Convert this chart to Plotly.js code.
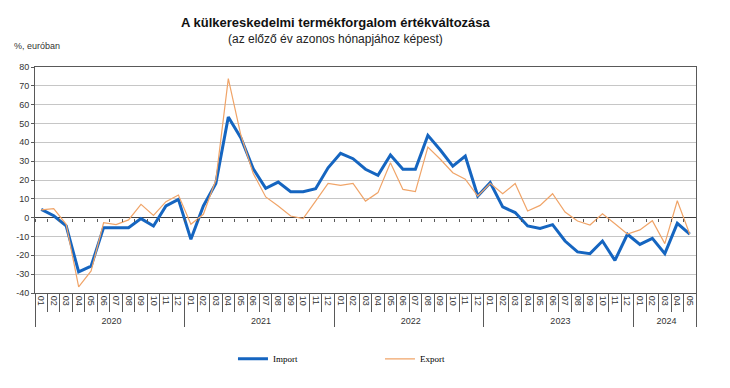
<!DOCTYPE html>
<html>
<head>
<meta charset="utf-8">
<script src="https://cdn.plot.ly/plotly-3.0.1.min.js"></script>
<style>html,body{margin:0;padding:0;background:#fff;}#chart{width:730px;height:388px;}</style>
</head>
<body>
<div id="chart"></div>
<script>
const years = ['2020', '2021', '2022', '2023', '2024'];
const monthsPerYear = [12, 12, 12, 12, 5];
const monthLabels = ['01','02','03','04','05','06','07','08','09','10','11','12'];

const importVals = [4.4, 1, -4.4, -28.8, -25.7, -5.3, -5.3, -5.3, -0.5, -4.4, 6.2, 9.7,
  -11.5, 6.2, 18.2, 53.5, 42.5, 26, 15.6, 18.9, 13.8, 13.8, 15.4, 26.5,
  34.2, 31.3, 25.7, 22.5, 33.3, 25.7, 25.7, 43.7, 35.9, 27.4, 32.7, 11.5,
  18.6, 5.7, 2.7, -4.4, -5.7, -3.7, -12.4, -18.2, -19.1, -12.4, -22.7, -8.8,
  -14.2, -11, -19.1, -3, -8.8];
const exportVals = [4.1, 4.8, -3.5, -36.8, -28.3, -2.7, -3.7, -1.2, 7.1, 1.2, 8.5, 12.0,
  -3.5, 1.8, 20, 73.8, 44, 23.5, 11, 6.2, 0.9, -0.5, 8.8, 18.2,
  17.2, 18.2, 8.8, 13.3, 29.2, 15, 13.8, 37.5, 31, 23.9, 20.4, 11.5,
  18.2, 12.7, 18.1, 3.5, 6.5, 12.7, 3, -1.8, -3.9, 2.1, -3.2, -8.7,
  -6.5, -1.6, -13.8, 9, -8.8];

const yTicks = [-40, -30, -20, -10, 0, 10, 20, 30, 40, 50, 60, 70, 80];
const yTickText = yTicks.map(v => String(v));

const titleText = 'A külkereskedelmi termékforgalom értékváltozása';
const subtitleText = '(az előző év azonos hónapjához képest)';
const unitText = '%, euróban';

const xYear = [], xMonth = [];
years.forEach((y, k) => {
  for (let m = 0; m < monthsPerYear[k]; m++) { xYear.push(y); xMonth.push(monthLabels[m]); }
});
const nCat = xYear.length;

const font = 'Liberation Sans, Arial, sans-serif';
const axisCol = '#595959';

const traces = [
  {x: [xYear, xMonth], y: importVals, name: 'Import', type: 'scatter', mode: 'lines',
   line: {color: '#1565c0', width: 3}},
  {x: [xYear, xMonth], y: exportVals, name: 'Export', type: 'scatter', mode: 'lines',
   line: {color: '#f0a468', width: 1.2}},
  {x: [0], y: [null], xaxis: 'x2', yaxis: 'y', showlegend: false, hoverinfo: 'skip', mode: 'lines'}
];

const layout = {
  width: 730, height: 388,
  margin: {l: 35, r: 34, t: 67, b: 95, autoexpand: false},
  paper_bgcolor: '#fff', plot_bgcolor: '#fff',
  font: {family: font, size: 9, color: '#333'},
  xaxis: {type: 'multicategory', range: [-0.5, nCat - 0.5], automargin: false,
    showline: true, linecolor: axisCol, linewidth: 1, mirror: true,
    ticks: 'outside', tickson: 'boundaries', ticklen: 18, tickcolor: axisCol, tickwidth: 1,
    tickangle: 90, showgrid: false, zeroline: false,
    showdividers: true, dividercolor: axisCol, dividerwidth: 1,
    tickfont: {family: font, size: 9, color: '#333'}},
  xaxis2: {overlaying: 'x', anchor: 'free', position: 1/3, range: [-0.5, nCat - 0.5],
    tick0: 0.5, dtick: 1, ticks: 'outside', ticklen: 3, tickcolor: axisCol,
    showticklabels: false, showgrid: false, zeroline: false, showline: false, automargin: false},
  yaxis: {range: [-40, 80], tickvals: yTicks, ticktext: yTickText, automargin: false,
    showline: true, linecolor: axisCol, mirror: true, ticks: 'outside', ticklen: 3, tickcolor: axisCol,
    gridcolor: '#c6c6c6', gridwidth: 1, zeroline: true, zerolinecolor: '#404040', zerolinewidth: 1,
    tickfont: {family: font, size: 9, color: '#333'}},
  legend: {orientation: 'h', x: 0.2995, xanchor: 'left', y: -0.227, yanchor: 'top',
    font: {family: 'Liberation Serif, serif', size: 9, color: '#000'},
    itemwidth: 30, tracegroupgap: 0, entrywidth: 102},
  annotations: [
    {text: '<b>' + titleText + '</b>', xref: 'paper', yref: 'paper', x: 0.455, y: 1.199,
     xanchor: 'center', yanchor: 'middle', showarrow: false, font: {family: font, size: 13, color: '#111'}},
    {text: subtitleText, xref: 'paper', yref: 'paper', x: 0.455, y: 1.124,
     xanchor: 'center', yanchor: 'middle', showarrow: false, font: {family: font, size: 12, color: '#222'}},
    {text: unitText, xref: 'paper', yref: 'paper', x: -0.035, y: 1.093,
     xanchor: 'left', yanchor: 'middle', showarrow: false, font: {family: font, size: 9, color: '#333'}}
  ],
  showlegend: true
};

Plotly.newPlot('chart', traces, layout, {staticPlot: true});
</script>
</body>
</html>
